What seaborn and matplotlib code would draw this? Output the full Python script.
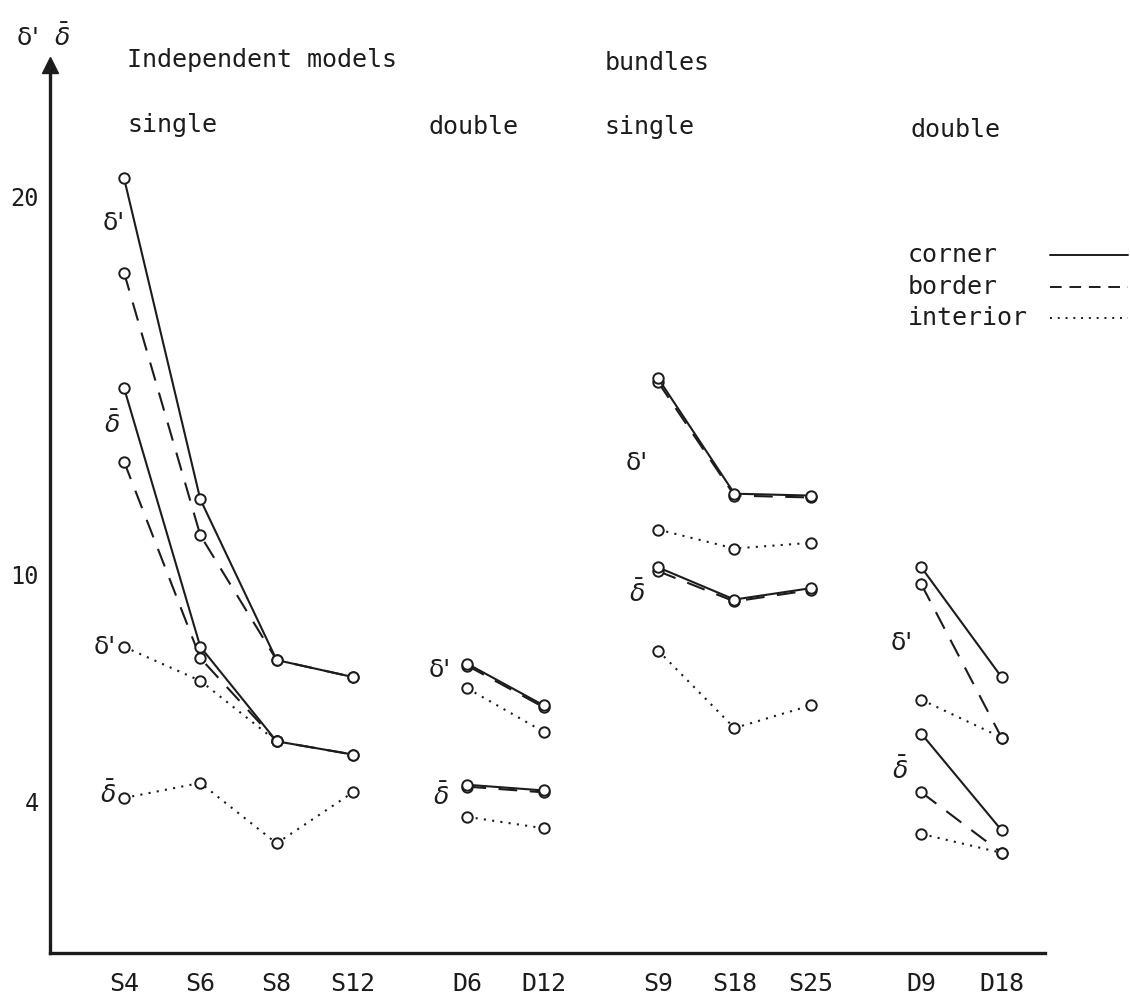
import numpy as np
import pandas as pd
import matplotlib.pyplot as plt
from matplotlib.lines import Line2D
import seaborn as sns

# categories along the x axis and the block each belongs to
categories = ['S4', 'S6', 'S8', 'S12', 'D6', 'D12', 'S9', 'S18', 'S25', 'D9', 'D18']
blocks = ['ind_single'] * 4 + ['ind_double'] * 2 + ['bun_single'] * 3 + ['bun_double'] * 2

# delta' values
corner_dprime = [20.5, 12.0, 7.75, 7.3, 7.65, 6.55, 15.2, 12.15, 12.1, 10.2, 7.3]
border_dprime = [18.0, 11.05, 7.75, 7.3, 7.6, 6.5, 15.1, 12.1, 12.05, 9.75, 5.7]
interior_dprime = [8.1, 7.2, 5.6, np.nan, 7.0, 5.85, 11.2, 10.7, 10.85, 6.7, 5.7]

# delta-bar values
corner_dbar = [14.95, 8.1, 5.6, 5.25, 4.45, 4.3, 10.2, 9.35, 9.65, 5.8, 3.25]
border_dbar = [13.0, 7.8, 5.6, 5.25, 4.4, 4.25, 10.1, 9.3, 9.6, 4.25, 2.65]
interior_dbar = [4.1, 4.5, 2.9, 4.25, 3.6, 3.3, 8.0, 5.95, 6.55, 3.15, 2.65]

# layout: uneven spacing of the categories (gaps between blocks)
x_pos = [0, 1, 2, 3, 4.5, 5.5, 7, 8, 9, 10.45, 11.5]

series = {
    ('corner', "d'"): corner_dprime, ('border', "d'"): border_dprime,
    ('interior', "d'"): interior_dprime, ('corner', 'db'): corner_dbar,
    ('border', 'db'): border_dbar, ('interior', 'db'): interior_dbar,
}
rows = []
for (struct, stat), vals in series.items():
    for i, v in enumerate(vals):
        if np.isnan(v):
            continue
        rows.append({'structure': struct, 'stat': stat, 'category': categories[i],
                     'pos': x_pos[i], 'value': v,
                     'line': f'{blocks[i]}-{stat}-{struct}'})
df = pd.DataFrame(rows)

sns.set_style('white')
plt.rcParams['font.family'] = ['DejaVu Sans Mono', 'DejaVu Sans']
ink = '#1c1c1c'

fig = plt.figure(figsize=(11.3, 10), dpi=100)
ax = fig.add_axes([50 / 1130, 47 / 1000, (1045 - 50) / 1130, (953 - 65) / 1000])

styles = {'interior': (0, (1, 3)), 'border': (0, (9, 6)), 'corner': '-'}
for struct in ['interior', 'border', 'corner']:
    sns.lineplot(data=df[df['structure'] == struct], x='pos', y='value', units='line',
                 estimator=None, sort=False, color=ink, linestyle=styles[struct],
                 lw=1.5, marker='o', ms=7.5, mfc='white', mec=ink, mew=1.4,
                 legend=False, ax=ax)

ax.set_xlim(-0.97, 12.07)
ax.set_ylim(0, 23.49)
ax.set_xlabel('')
ax.set_ylabel('')
ax.set_xticks(x_pos)
ax.set_xticklabels(categories)
ax.set_yticks([4, 10, 12, 20])
ax.set_yticklabels(['4', '10', '', '20'])
ax.tick_params(axis='both', direction='out', length=6, width=1.5, colors=ink)
ax.tick_params(axis='x', pad=8, labelsize=18)
ax.tick_params(axis='y', pad=2, labelsize=17)
sns.despine(ax=ax)
for side in ['left', 'bottom']:
    ax.spines[side].set_linewidth(2.4)
    ax.spines[side].set_color(ink)
ax.plot(0, 1, marker='^', ms=12, color=ink, transform=ax.transAxes, clip_on=False)

# delta labels next to the curves
delta_labels = [
    (-0.14, 19.3, "δ'"), (-0.16, 13.97, 'db'), (-0.25, 8.1, "δ'"), (-0.21, 4.18, 'db'),
    (4.14, 7.49, "δ'"), (4.16, 4.13, 'db'), (6.72, 12.95, "δ'"), (6.72, 9.52, 'db'),
    (10.19, 8.19, "δ'"), (10.17, 4.84, 'db'),
]
for x, y, t in delta_labels:
    txt = r'$\bar{\delta}$' if t == 'db' else t
    ax.text(x, y, txt, fontsize=18, color=ink, ha='center', va='center',
            family='DejaVu Sans')

# header texts
def ftext(px, py, s, size=18, family='DejaVu Sans Mono'):
    fig.text(px / 1130, 1 - py / 1000, s, fontsize=size, color=ink, ha='left',
             va='center', family=family)

ftext(16, 37, "δ'  " + r'$\bar{\delta}$', family='DejaVu Sans')
ftext(127, 60, 'Independent models')
ftext(127, 125, 'single')
ftext(428, 127, 'double')
ftext(605, 63, 'bundles')
ftext(604, 127, 'single')
ftext(910, 130, 'double')

# legend: label on the left, line sample on the right
legend_rows = [('corner', '-', 255), ('border', (0, (6, 4)), 287), ('interior', (0, (1, 3)), 318)]
for label, ls, py in legend_rows:
    ftext(908, py, label)
    fig.add_artist(Line2D([1050 / 1130, 1128 / 1130], [1 - py / 1000] * 2,
                          transform=fig.transFigure, color=ink, lw=1.4, linestyle=ls))

fig.savefig('out.png', dpi=100)
